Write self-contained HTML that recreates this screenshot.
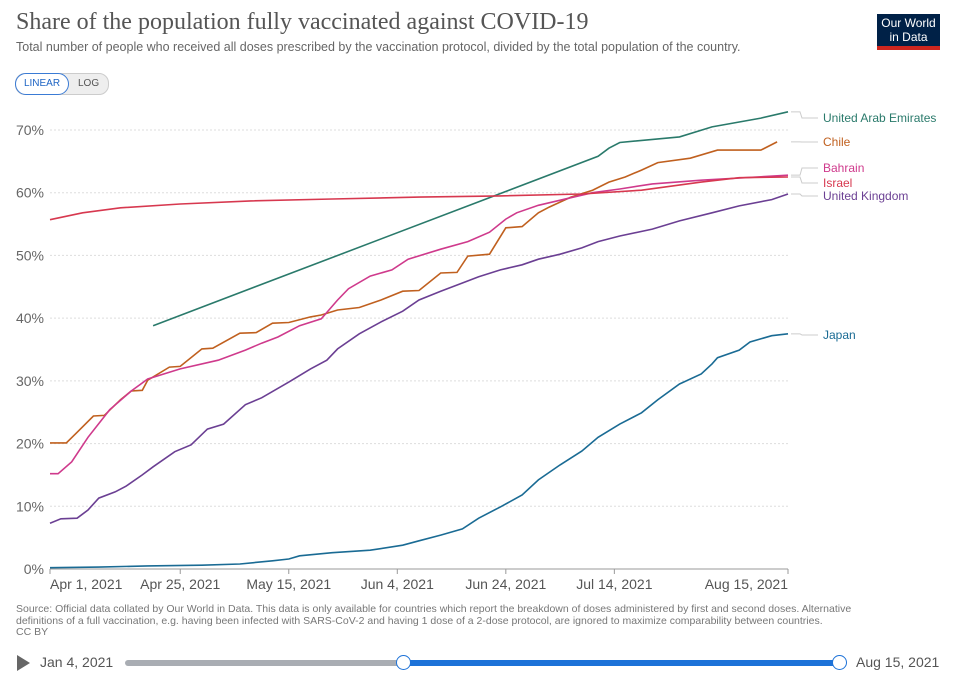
<!DOCTYPE html>
<html><head><meta charset="utf-8"><style>
body{margin:0;width:954px;height:681px;background:#fff;font-family:"Liberation Sans",sans-serif;overflow:hidden;position:relative}
.t{position:absolute;white-space:nowrap}
</style></head><body>
<div class="t" style="left:16px;top:9px;font-family:'Liberation Serif',serif;font-size:24px;color:#555">Share of the population fully vaccinated against COVID-19</div>
<div class="t" style="left:16px;top:40px;font-size:12.5px;color:#666">Total number of people who received all doses prescribed by the vaccination protocol, divided by the total population of the country.</div>
<div style="position:absolute;left:877px;top:14px;width:63px;height:36px;background:#002147;border-bottom:4px solid #ce261e;color:#fff;font-size:12px;line-height:14px;text-align:center;padding-top:2px;box-sizing:border-box">Our World<br>in Data</div>
<div style="position:absolute;left:15px;top:73px;width:92px;height:20px;border:1px solid #ccc;border-radius:10px;background:#eee;font-size:10px;">
<div style="position:absolute;left:-1px;top:-1px;width:54px;height:22px;border:1px solid #3a7bd5;border-radius:11px;background:#fff;color:#1d64c4;text-align:center;line-height:20px;box-sizing:border-box">LINEAR</div>
<div style="position:absolute;left:62px;top:0;line-height:20px;color:#555">LOG</div></div>
<svg id="c" width="954" height="681" style="position:absolute;left:0;top:0"></svg>
<div class="t" style="left:16px;top:604px;font-size:10.5px;line-height:11.5px;color:#777">Source: Official data collated by Our World in Data. This data is only available for countries which report the breakdown of doses administered by first and second doses. Alternative<br>definitions of a full vaccination, e.g. having been infected with SARS-CoV-2 and having 1 dose of a 2-dose protocol, are ignored to maximize comparability between countries.<br>CC BY</div>
<div style="position:absolute;left:17px;top:655px;width:0;height:0;border-left:13px solid #666;border-top:8px solid transparent;border-bottom:8px solid transparent"></div>
<div class="t" style="left:40px;top:654px;font-size:14px;color:#555">Jan 4, 2021</div>
<div style="position:absolute;left:125px;top:660px;width:715px;height:6px;background:#a9adb3;border-radius:3px"></div>
<div style="position:absolute;left:404px;top:660px;width:436px;height:6px;background:#1d72d8"></div>
<div style="position:absolute;left:396px;top:655px;width:13px;height:13px;border:1.5px solid #1d72d8;border-radius:50%;background:#fff"></div>
<div style="position:absolute;left:832px;top:655px;width:13px;height:13px;border:1.5px solid #1d72d8;border-radius:50%;background:#fff"></div>
<div class="t" style="left:856px;top:654px;font-size:14px;color:#555">Aug 15, 2021</div>
<script>
const tickDays=[0,24,44,64,84,104,136];
const tickLabels=["Apr 1, 2021","Apr 25, 2021","May 15, 2021","Jun 4, 2021","Jun 24, 2021","Jul 14, 2021","Aug 15, 2021"];
const yTicks=[0,10,20,30,40,50,60,70];
const seriesNames=["United Arab Emirates","Chile","Bahrain","Israel","United Kingdom","Japan"];
const seriesColors=["#2a7a6b","#c0601f","#cf3a8c","#d7384f","#6b3f93","#1a6b94"];
const labelY=[122,146,172,187,200,339];
const uaeDays=[19,101,103,105,116,122,131,136];
const uaeVals=[38.8,65.8,67.1,68,68.9,70.5,71.9,72.9];
const chileDays=[0,3,5,8,10,13,15,17,18,22,24,28,30,35,38,41,44,48,50,53,57,61,65,68,72,75,77,81,84,87,90,92,96,100,103,106,109,112,118,123,131,134];
const chileVals=[20.1,20.1,21.8,24.4,24.5,27,28.4,28.5,30.1,32.2,32.3,35.1,35.2,37.6,37.7,39.2,39.3,40.2,40.5,41.3,41.7,42.9,44.3,44.4,47.2,47.3,49.9,50.2,54.4,54.6,56.8,57.7,59.3,60.4,61.7,62.5,63.6,64.8,65.5,66.8,66.8,68.1];
const bahrainDays=[0,1.5,4,7,11,15,18,24,31,36,39,42,46,50,53,55,59,63,66,72,77,81,84,86,90,96,100,105,111,120,136];
const bahrainVals=[15.2,15.2,17.1,21,25.4,28.4,30.3,31.9,33.3,34.9,36,37,38.8,39.9,42.9,44.7,46.7,47.7,49.4,51,52.2,53.7,55.8,56.8,58,59.2,60,60.6,61.4,62,62.8];
const israelDays=[0,6,13,24,37,52,68,83,98,109,120,127,136];
const israelVals=[55.7,56.8,57.6,58.2,58.7,59,59.3,59.5,59.8,60.4,61.7,62.4,62.5];
const ukDays=[0,2,5,7,9,12,14,17,19,23,26,29,32,36,39,44,48,51,53,57,61,65,68,72,76,79,83,87,90,94,98,101,105,111,116,122,127,133,136];
const ukVals=[7.3,8,8.1,9.4,11.3,12.3,13.2,15,16.3,18.7,19.8,22.3,23.1,26.2,27.3,29.8,31.9,33.3,35.1,37.5,39.4,41.1,42.9,44.3,45.6,46.6,47.7,48.5,49.4,50.2,51.2,52.2,53.1,54.2,55.5,56.8,57.9,58.9,59.8];
const japanDays=[0,9,18,28,35,41,44,46,52,59,65,68,72,76,79,83,87,90,94,98,101,105,109,112,116,120,122,123,127,129,133,136];
const japanVals=[0.2,0.3,0.5,0.6,0.8,1.3,1.6,2.1,2.6,3,3.8,4.5,5.4,6.4,8.1,9.9,11.8,14.2,16.6,18.8,21,23.1,24.9,27,29.5,31.1,32.7,33.7,34.9,36.2,37.2,37.5];
const allDays=[uaeDays,chileDays,bahrainDays,israelDays,ukDays,japanDays];
const allVals=[uaeVals,chileVals,bahrainVals,israelVals,ukVals,japanVals];
const X0=50,X1=788,Y0=569,Y70=130;
function xs(d){return X0+(X1-X0)*d/136;}
function ys(v){return Y0-(Y0-Y70)*v/70;}
const svg=document.getElementById('c');
const NS='http://www.w3.org/2000/svg';
function mk(t,a){const e=document.createElementNS(NS,t);for(const k in a)e.setAttribute(k,a[k]);svg.appendChild(e);return e;}
yTicks.forEach(v=>{
 const l=mk('line',{x1:X0,x2:X1,y1:ys(v),y2:ys(v),stroke:v?'#ddd':'#999','stroke-dasharray':v?'2,2':'none'});
 
 
 const t=mk('text',{x:44,y:ys(v)+5,'text-anchor':'end','font-size':14,fill:'#666','font-family':'Liberation Sans'});
 t.textContent=v+'%';
 
 
});
tickDays.forEach((d,i)=>{
 const l=mk('line',{x1:xs(d),x2:xs(d),y1:Y0,y2:Y0+5,stroke:'#999'});
 
 
 const t=mk('text',{x:xs(d),y:Y0+20,'text-anchor':i==0?'start':(i==6?'end':'middle'),'font-size':14,fill:'#555','font-family':'Liberation Sans'});
 t.textContent=tickLabels[i];
 
 
});
allDays.forEach((ds,s)=>{
 const vs=allVals[s];
 const pts=ds.map((d,i)=>xs(d).toFixed(1)+','+ys(vs[i]).toFixed(1)).join(' ');
 const p=mk('polyline',{points:pts,fill:'none',stroke:seriesColors[s],'stroke-width':1.6});
 
 
 const ey=ys(vs[vs.length-1]);
 const c=mk('polyline',{points:`${X1+3},${ey} ${X1+12},${ey} ${X1+14},${labelY[s]-4} ${X1+30},${labelY[s]-4}`,fill:'none',stroke:'#ccc'});
 
 
 const t=mk('text',{x:823,y:labelY[s],'font-size':12,fill:seriesColors[s],'font-family':'Liberation Sans'});
 t.textContent=seriesNames[s];
 
 
});
</script>
</body></html>
